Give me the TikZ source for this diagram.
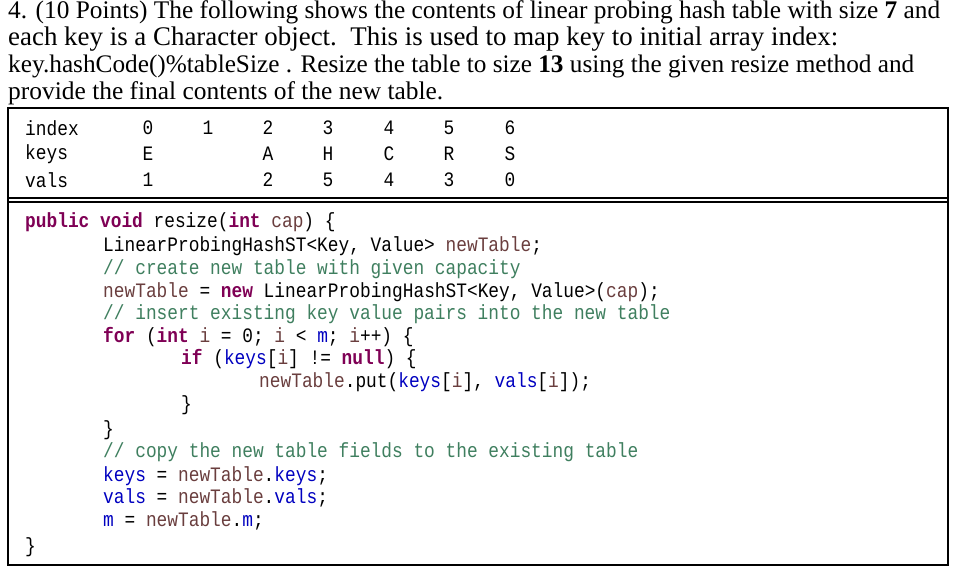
\documentclass[tikz,border=0pt]{standalone}
\usepackage{fontspec}
\setmainfont{Liberation Serif}
\setmonofont[FakeStretch=0.87]{Liberation Mono}
\definecolor{kwc}{HTML}{7F0055}
\definecolor{vrc}{HTML}{6A3E3E}
\definecolor{fdc}{HTML}{0000C0}
\definecolor{cmc}{HTML}{3F7F5F}
\newcommand{\kw}[1]{\textcolor{kwc}{\bfseries #1}}
\newcommand{\vr}[1]{\textcolor{vrc}{#1}}
\newcommand{\fd}[1]{\textcolor{fdc}{#1}}
\newcommand{\cm}[1]{\textcolor{cmc}{#1}}
\begin{document}
\begin{tikzpicture}[x=1pt,y=-1pt,
  txt/.style={anchor=west,inner sep=0pt},
  code/.style={anchor=west,inner sep=0pt,font=\fontsize{20.5}{23}\selectfont\ttfamily},
  cell/.style={anchor=center,inner sep=0pt,font=\fontsize{20.5}{23}\selectfont\ttfamily}]
\useasboundingbox (0,0) rectangle (970,572);
\fill[white] (0,0) rectangle (970,572);
\node[txt] (t1) at (8,12) {\resizebox{932pt}{!}{4. (10 Points) The following shows the contents of linear probing hash table with size \textbf{7} and}};
\node[txt] (t2) at (8,39) {\resizebox{830pt}{!}{each key is a Character object.\ \ This is used to map key to initial array index:}};
\node[txt] (t3) at (8,66) {\resizebox{906pt}{!}{key.hashCode()\%tableSize . Resize the table to size \textbf{13} using the given resize method and}};
\node[txt] (t4) at (8,93) {\resizebox{435pt}{!}{provide the final contents of the new table.}};
\draw[line width=1.5pt] (8,108) rectangle (948,565);
\draw[line width=1.2pt] (8,198) -- (948,198);
\draw[line width=1.2pt] (8,202) -- (948,202);
% table
\node[code] (ri) at (25,128) {index};
\node[code] (rk) at (25,154) {keys};
\node[code] (rv) at (25,180) {vals};
\foreach \i/\x/\k/\v in {0/148/E/1,1/208//,2/268/A/2,3/328/H/5,4/389/C/4,5/449/R/3,6/510/S/0}{
  \node[cell] (i\i) at (\x,128) {\i};
  \node[cell] (k\i) at (\x,154) {\k};
  \node[cell] (v\i) at (\x,180) {\v};
}
% code
\node[code] (c1) at (25,222) {\kw{public} \kw{void} resize(\kw{int} \vr{cap}) \{};
\node[code] (c2) at (103,246) {LinearProbingHashST<Key, Value> \vr{newTable};};
\node[code] (c3) at (103,269) {\cm{// create new table with given capacity}};
\node[code] (c4) at (103,292) {\vr{newTable} = \kw{new} LinearProbingHashST<Key, Value>(\vr{cap});};
\node[code] (c5) at (103,314) {\cm{// insert existing key value pairs into the new table}};
\node[code] (c6) at (103,337) {\kw{for} (\kw{int} \vr{i} = 0; \vr{i} < \fd{m}; \vr{i}++) \{};
\node[code] (c7) at (181,359) {\kw{if} (\fd{keys}[\vr{i}] != \kw{null}) \{};
\node[code] (c8) at (259,382) {\vr{newTable}.put(\fd{keys}[\vr{i}], \fd{vals}[\vr{i}]);};
\node[code] (c9) at (181,405) {\}};
\node[code] (c10) at (103,430) {\}};
\node[code] (c11) at (103,452) {\cm{// copy the new table fields to the existing table}};
\node[code] (c12) at (103,476) {\fd{keys} = \vr{newTable}.\fd{keys};};
\node[code] (c13) at (103,498) {\fd{vals} = \vr{newTable}.\fd{vals};};
\node[code] (c14) at (103,521) {\fd{m} = \vr{newTable}.\fd{m};};
\node[code] (c15) at (25,547) {\}};
\end{tikzpicture}
\end{document}
